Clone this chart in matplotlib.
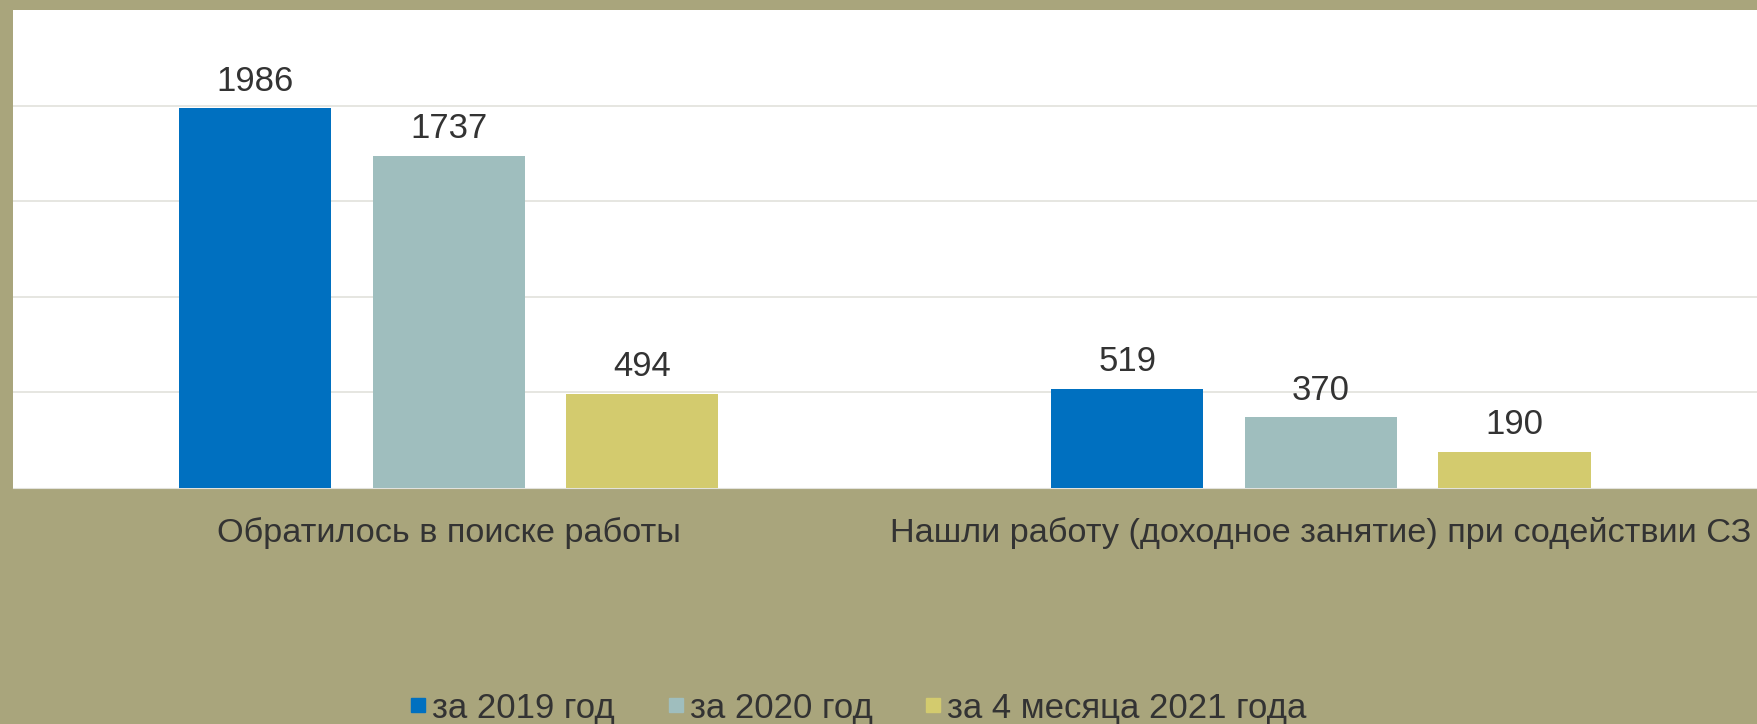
import matplotlib.pyplot as plt
from matplotlib.lines import Line2D
import numpy as np

categories = ["Обратилось в поиске работы",
              "Нашли работу (доходное занятие) при содействии СЗ"]
series = ["за 2019 год", "за 2020 год", "за 4 месяца 2021 года"]
values_2019 = [1986, 519]
values_2020 = [1737, 370]
values_2021 = [494, 190]

colors = ["#0070C0", "#9FBEBE", "#D3CB6E"]
bg = "#A9A57C"
txt = "#333333"

plt.rcParams['font.family'] = ['Liberation Sans', 'DejaVu Sans']

W, H = 1757, 724
fig = plt.figure(figsize=(W / 100, H / 100), dpi=100, facecolor=bg)
ax = fig.add_axes([12.5 / W, (H - 488) / H, (W - 12.5) / W, (488 - 10) / H])
ax.set_facecolor("white")

x = np.arange(len(categories))
width = 0.1745
pitch = 0.222
handles = []
for i, (vals, name) in enumerate(zip([values_2019, values_2020, values_2021], series)):
    pos = x + (i - 1) * pitch
    ax.bar(pos, vals, width, color=colors[i], zorder=3)
    for p, v in zip(pos, vals):
        ax.text(p, v + 55, str(v), ha="center", va="bottom", fontsize=25, color=txt)
    handles.append(Line2D([], [], marker="s", linestyle="none", markersize=10,
                          markerfacecolor=colors[i], markeredgecolor=colors[i], label=name))

ax.set_xlim(-0.5, 1.5)
ax.set_ylim(0, 2500)
ax.set_yticks([500, 1000, 1500, 2000])
ax.yaxis.grid(True, color="#E2E2DC", linewidth=1.2, zorder=0)
ax.tick_params(axis="y", length=0, labelleft=False)
ax.tick_params(axis="x", length=0, pad=21, labelsize=24.7, labelcolor=txt)
ax.set_xticks(x)
ax.set_xticklabels(categories)
for s in ["top", "right", "left"]:
    ax.spines[s].set_visible(False)
ax.spines["bottom"].set_color("#E2E2DC")

fig.legend(handles=handles, loc="center", bbox_to_anchor=(0.486, 0.022), ncol=3,
           frameon=False, fontsize=25, labelcolor=txt, handletextpad=-0.1,
           columnspacing=1.25, handlelength=1.0)

fig.savefig("out.png", dpi=100, facecolor=bg)
